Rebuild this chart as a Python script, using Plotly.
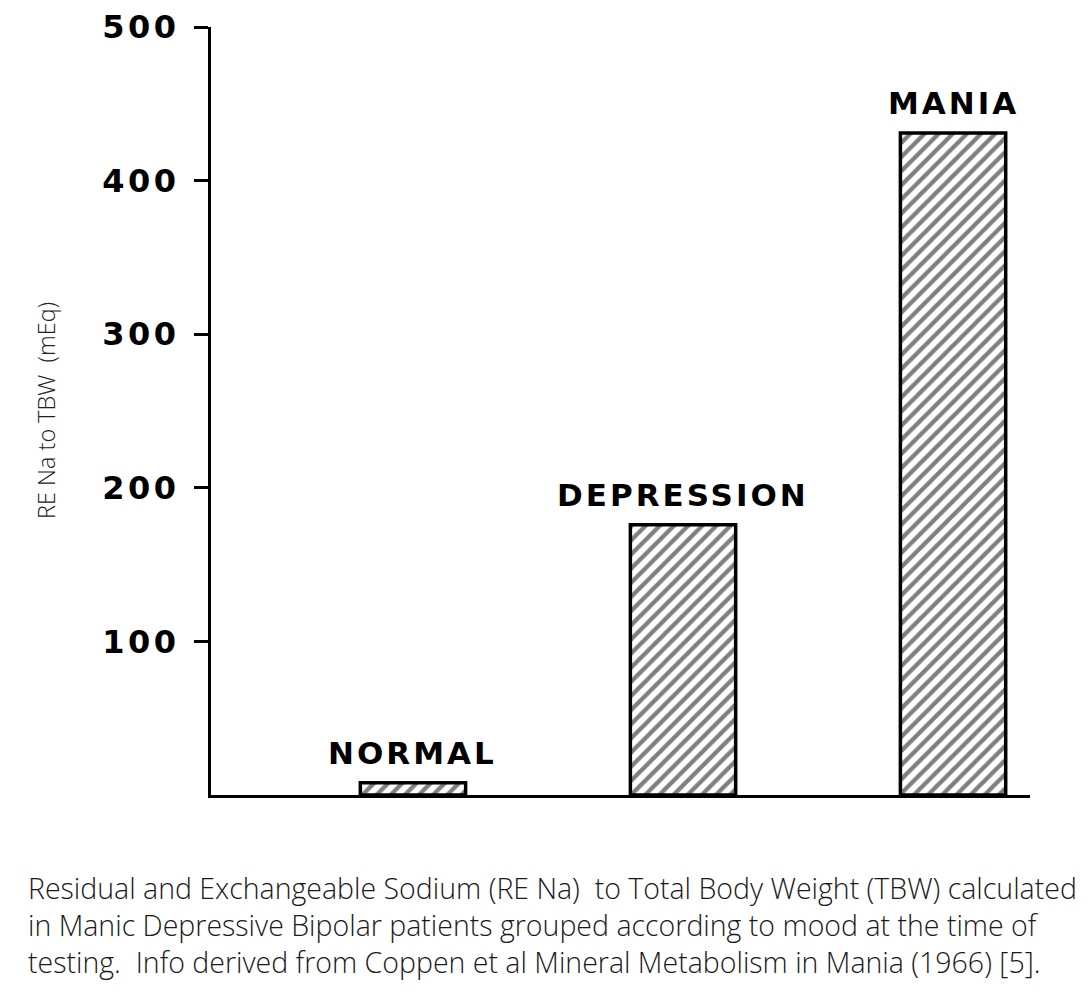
import plotly.graph_objects as go

categories = ["NORMAL", "DEPRESSION", "MANIA"]
values = [8, 176, 431]
y_ticks = [100, 200, 300, 400, 500]
y_tick_labels = ["100", "200", "300", "400", "500"]
y_title = "RE Na to TBW  (mEq)"
caption_lines = [
    "Residual and Exchangeable Sodium (RE Na)  to Total Body Weight (TBW) calculated",
    "in Manic Depressive Bipolar patients grouped according to mood at the time of",
    "testing.  Info derived from Coppen et al Mineral Metabolism in Mania (1966) [5].",
]

W, H = 1090, 1000
OFF = 8  # page body offset
ML, MR, MT, MB = 211 - OFF, 60 + OFF, 19, 205 + OFF

fig = go.Figure()
fig.add_trace(go.Bar(
    x=list(range(len(categories))),
    y=values,
    width=0.39,
    marker=dict(
        color="white",
        line=dict(color="black", width=3.5),
        pattern=dict(shape="/", fgcolor="black", bgcolor="white", size=10, solidity=0.42),
    ),
    hoverinfo="skip",
))

label_font = dict(family="DejaVu Sans", size=31, color="black", weight="bold")
for i, (c, v) in enumerate(zip(categories, values)):
    fig.add_annotation(x=i, y=v, xref="x", yref="y",
                       text='<span style="letter-spacing:3px">%s</span>' % c,
                       showarrow=False, xanchor="center", yanchor="bottom",
                       yshift=10, font=label_font)

pw = W - ML - MR
ph = H - MT - MB

def px_x(x):
    return (x - OFF - ML) / pw

def px_y(y):
    return (H - MB - (y - OFF)) / ph

fig.add_annotation(x=px_x(46), y=px_y(411), xref="paper", yref="paper", text=y_title,
                   textangle=-90, showarrow=False, xanchor="center", yanchor="middle",
                   font=dict(family="Open Sans", size=23.5, color="#222", weight=300))

cap_y = [888, 925, 962]
for line, yy in zip(caption_lines, cap_y):
    fig.add_annotation(x=px_x(26), y=px_y(yy), xref="paper", yref="paper", text=line,
                       showarrow=False, xanchor="left", yanchor="middle",
                       font=dict(family="Open Sans", size=28.5, color="#1a1a1a", weight=300))

fig.update_layout(
    width=W, height=H,
    margin=dict(l=ML, r=MR, t=MT, b=MB, pad=0, autoexpand=False),
    paper_bgcolor="white", plot_bgcolor="white",
    showlegend=False,
    xaxis=dict(range=[-0.748, 2.285], showticklabels=False, ticks="",
               showgrid=False, zeroline=False, showline=True,
               linecolor="black", linewidth=3),
    yaxis=dict(range=[0, 500], tickvals=y_ticks,
               ticktext=['<span style="letter-spacing:3.5px">%s</span>' % t for t in y_tick_labels],
               ticks="outside", ticklen=14, tickwidth=3, tickcolor="black",
               showgrid=False, zeroline=False, showline=True, automargin=False,
               ticklabeloverflow="allow",
               linecolor="black", linewidth=3, ticklabelstandoff=8,
               tickfont=dict(family="DejaVu Sans", size=32, color="black", weight="bold")),
)

fig.write_html("out.html")
